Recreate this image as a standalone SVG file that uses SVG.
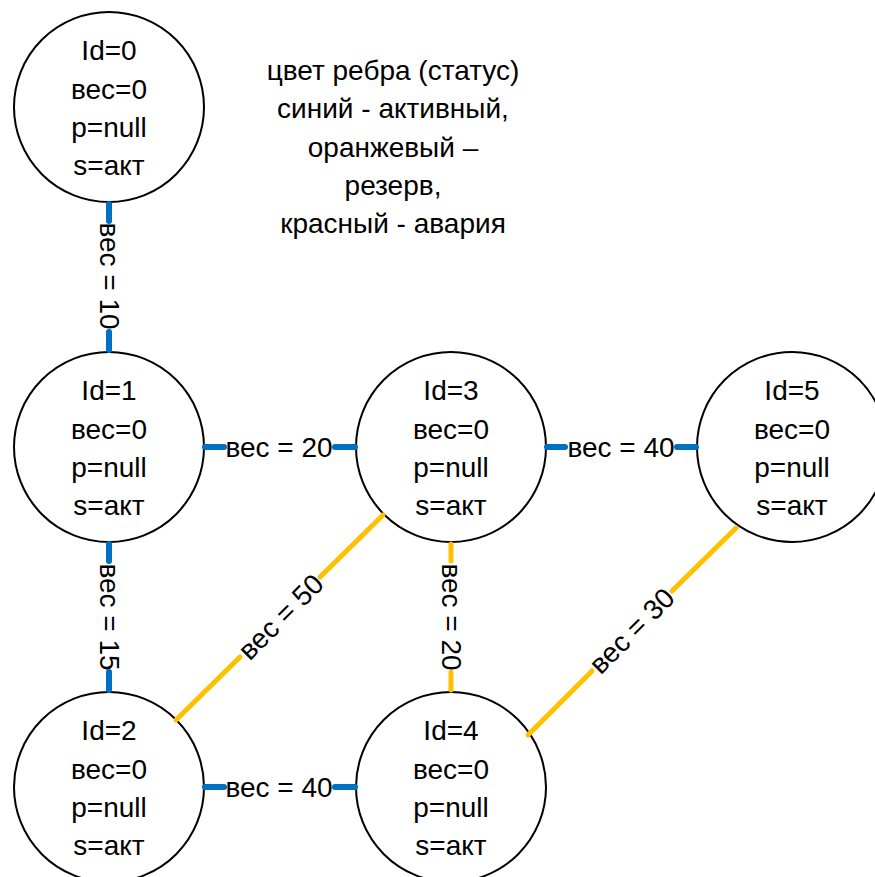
<svg xmlns="http://www.w3.org/2000/svg" width="875" height="877" viewBox="0 0 875 877">
  <style>
    .node circle { fill: #ffffff; stroke: #000000; stroke-width: 2; }
    text { font-family: "Liberation Sans", Arial, sans-serif; font-size: 28px; fill: #000000; text-anchor: middle; }
    .active { stroke: #0070C0; stroke-width: 6; stroke-linecap: round; fill: none; }
    .reserve { stroke: #FFC000; stroke-width: 5; stroke-linecap: round; fill: none; }
    .lbl { dominant-baseline: central; }
  </style>

  <!-- legend -->
  <g id="legend">
    <text x="393" y="80">цвет ребра (статус)</text>
    <text x="393" y="118">синий - активный,</text>
    <text x="393" y="157">оранжевый –</text>
    <text x="393" y="195">резерв,</text>
    <text x="393" y="233">красный - авария</text>
  </g>

  <!-- vertices -->
  <g id="node0" class="node">
    <circle cx="109" cy="107" r="95"/>
    <text x="109" y="60">Id=0</text>
    <text x="109" y="99">вес=0</text>
    <text x="109" y="137">p=null</text>
    <text x="109" y="175">s=акт</text>
  </g>
  <g id="node1" class="node">
    <circle cx="109" cy="447" r="95"/>
    <text x="109" y="400">Id=1</text>
    <text x="109" y="439">вес=0</text>
    <text x="109" y="477">p=null</text>
    <text x="109" y="515">s=акт</text>
  </g>
  <g id="node2" class="node">
    <circle cx="109" cy="787" r="95"/>
    <text x="109" y="740">Id=2</text>
    <text x="109" y="779">вес=0</text>
    <text x="109" y="817">p=null</text>
    <text x="109" y="855">s=акт</text>
  </g>
  <g id="node3" class="node">
    <circle cx="451" cy="447" r="95"/>
    <text x="451" y="400">Id=3</text>
    <text x="451" y="439">вес=0</text>
    <text x="451" y="477">p=null</text>
    <text x="451" y="515">s=акт</text>
  </g>
  <g id="node4" class="node">
    <circle cx="451" cy="787" r="95"/>
    <text x="451" y="740">Id=4</text>
    <text x="451" y="779">вес=0</text>
    <text x="451" y="817">p=null</text>
    <text x="451" y="855">s=акт</text>
  </g>
  <g id="node5" class="node">
    <circle cx="792" cy="447" r="95"/>
    <text x="792" y="400">Id=5</text>
    <text x="792" y="439">вес=0</text>
    <text x="792" y="477">p=null</text>
    <text x="792" y="515">s=акт</text>
  </g>

  <!-- edges: line segments split around their weight labels -->
  <g id="edges">
    <!-- 0 - 1 -->
    <line class="active" x1="109" y1="204" x2="109" y2="221"/>
    <line class="active" x1="109" y1="332" x2="109" y2="350"/>
    <text class="lbl" transform="translate(109,276) rotate(90)">вес = 10</text>
    <!-- 1 - 3 -->
    <line class="active" x1="205" y1="447" x2="224" y2="447"/>
    <line class="active" x1="335" y1="447" x2="355" y2="447"/>
    <text class="lbl" x="279" y="447">вес = 20</text>
    <!-- 3 - 5 -->
    <line class="active" x1="547" y1="447" x2="565" y2="447"/>
    <line class="active" x1="677" y1="447" x2="696" y2="447"/>
    <text class="lbl" x="621" y="447">вес = 40</text>
    <!-- 1 - 2 -->
    <line class="active" x1="109" y1="544" x2="109" y2="561"/>
    <line class="active" x1="109" y1="672" x2="109" y2="690"/>
    <text class="lbl" transform="translate(109,617) rotate(90)">вес = 15</text>
    <!-- 2 - 4 -->
    <line class="active" x1="205" y1="787" x2="224" y2="787"/>
    <line class="active" x1="335" y1="787" x2="355" y2="787"/>
    <text class="lbl" x="279" y="787">вес = 40</text>
    <!-- 3 - 4 -->
    <line class="reserve" x1="451" y1="544" x2="451" y2="561"/>
    <line class="reserve" x1="451" y1="672" x2="451" y2="690"/>
    <text class="lbl" transform="translate(451,617) rotate(90)">вес = 20</text>
    <!-- 2 - 3 -->
    <line class="reserve" x1="176" y1="720" x2="240" y2="657"/>
    <line class="reserve" x1="320" y1="577" x2="383" y2="515"/>
    <text class="lbl" transform="translate(281,617) rotate(-45)">вес = 50</text>
    <!-- 4 - 5 -->
    <line class="reserve" x1="528" y1="735" x2="592" y2="671"/>
    <line class="reserve" x1="672" y1="591" x2="736" y2="528"/>
    <text class="lbl" transform="translate(632,631) rotate(-45)">вес = 30</text>
  </g>
</svg>
